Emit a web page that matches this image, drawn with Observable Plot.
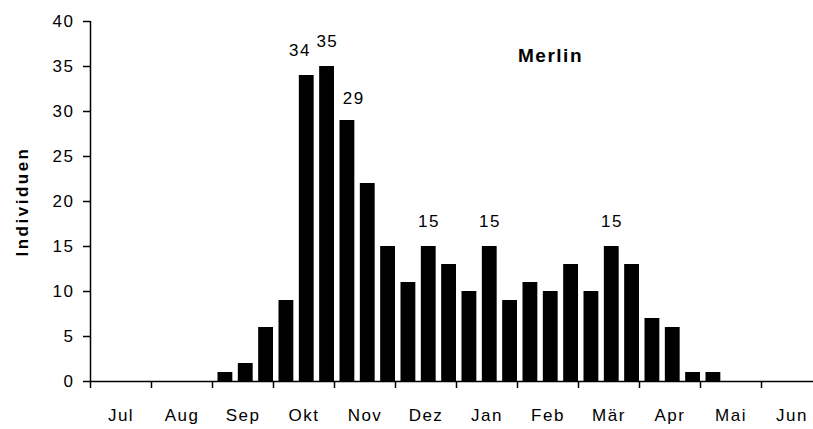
<!DOCTYPE html>
<html>
<head>
<meta charset="utf-8">
<script src="https://cdn.jsdelivr.net/npm/d3@7"></script>
<script src="https://cdn.jsdelivr.net/npm/@observablehq/plot@0.6"></script>
<style>
  html, body { margin: 0; padding: 0; background: #fff; }
  #chart svg text { letter-spacing: 1.5px; }
  #chart svg text.ylab { letter-spacing: 2.5px; }
</style>
</head>
<body>
<div id="chart"></div>
<script>
// Months (each split into three decades)
const months = ["Jul", "Aug", "Sep", "Okt", "Nov", "Dez", "Jan", "Feb", "Mär", "Apr", "Mai", "Jun"];
// Individuals per decade (36 slots, Jul 1st decade .. Jun 3rd decade)
const counts = [
  0, 0, 0,     // Jul
  0, 0, 0,     // Aug
  1, 2, 6,     // Sep
  9, 34, 35,   // Okt
  29, 22, 15,  // Nov
  11, 15, 13,  // Dez
  10, 15, 9,   // Jan
  11, 10, 13,  // Feb
  10, 15, 13,  // Mär
  7, 6, 1,     // Apr
  1, 0, 0,     // Mai
  0, 0, 0      // Jun
];
const yTicks = [0, 5, 10, 15, 20, 25, 30, 35, 40];
const labeledSlots = [10, 11, 12, 16, 19, 25];
const speciesName = "Merlin";
const yLabel = "Individuen";

const data = counts.map((v, i) => ({slot: i, value: v}));
const bars = data.filter(d => d.value > 0);
const labels = data.filter(d => labeledSlots.includes(d.slot));
const monthStarts = months.map((m, i) => i * 3);
const monthMids = months.map((m, i) => i * 3 + 1.5);

const font = "'Liberation Sans', Arial, sans-serif";

const chart = Plot.plot({
  width: 813,
  height: 429,
  marginLeft: 90,
  marginRight: 0,
  marginTop: 21,
  marginBottom: 48,
  style: {fontFamily: font, fontSize: "17px", color: "#000", background: "#fff"},
  x: {domain: [0, 36], range: [90, 822]},
  y: {domain: [0, 40]},
  marks: [
    Plot.rectY(bars, {x1: "slot", x2: d => d.slot + 1, y: "value", fill: "#000", insetLeft: 5.5, insetRight: 0}),
    Plot.ruleY([0], {stroke: "#000", strokeWidth: 1.5}),
    Plot.axisY({ticks: yTicks, tickSize: 7, tickPadding: 9, strokeWidth: 1.5, fontSize: 17, label: null}),
    Plot.ruleX([0], {stroke: "#000", strokeWidth: 1.5}),
    Plot.axisX({ticks: monthStarts, tickSize: 7, tickFormat: () => "", strokeWidth: 1.5, label: null}),
    Plot.axisX({ticks: monthMids, tickSize: 0, tickPadding: 27, tickFormat: (d) => months[Math.round(d - 1.5) / 3], fontSize: 17, label: null}),
    Plot.text(labels.filter(d => d.slot !== 10 && d.slot !== 12), {x: d => d.slot + 0.5, y: "value", text: "value", dy: -25, dx: 3, fontSize: 17}),
    Plot.text(labels.filter(d => d.slot === 10), {x: d => d.slot + 0.5, y: "value", text: "value", dy: -25, dx: -4, fontSize: 17}),
    Plot.text(labels.filter(d => d.slot === 12), {x: d => d.slot + 0.5, y: "value", text: "value", dy: -22, dx: 9, fontSize: 17}),
    Plot.text([speciesName], {frameAnchor: "top-left", textAnchor: "middle", lineAnchor: "middle", dx: 460, dy: 34, fontWeight: "bold", fontSize: 19}),
    Plot.text([yLabel], {frameAnchor: "left", rotate: -90, textAnchor: "middle", lineAnchor: "middle", dx: -68, fontWeight: "bold", fontSize: 17, className: "ylab"})
  ]
});
chart.querySelectorAll("g.ylab text, .ylab text").forEach(t => t.classList.add("ylab"));
document.getElementById("chart").appendChild(chart);
</script>
</body>
</html>
